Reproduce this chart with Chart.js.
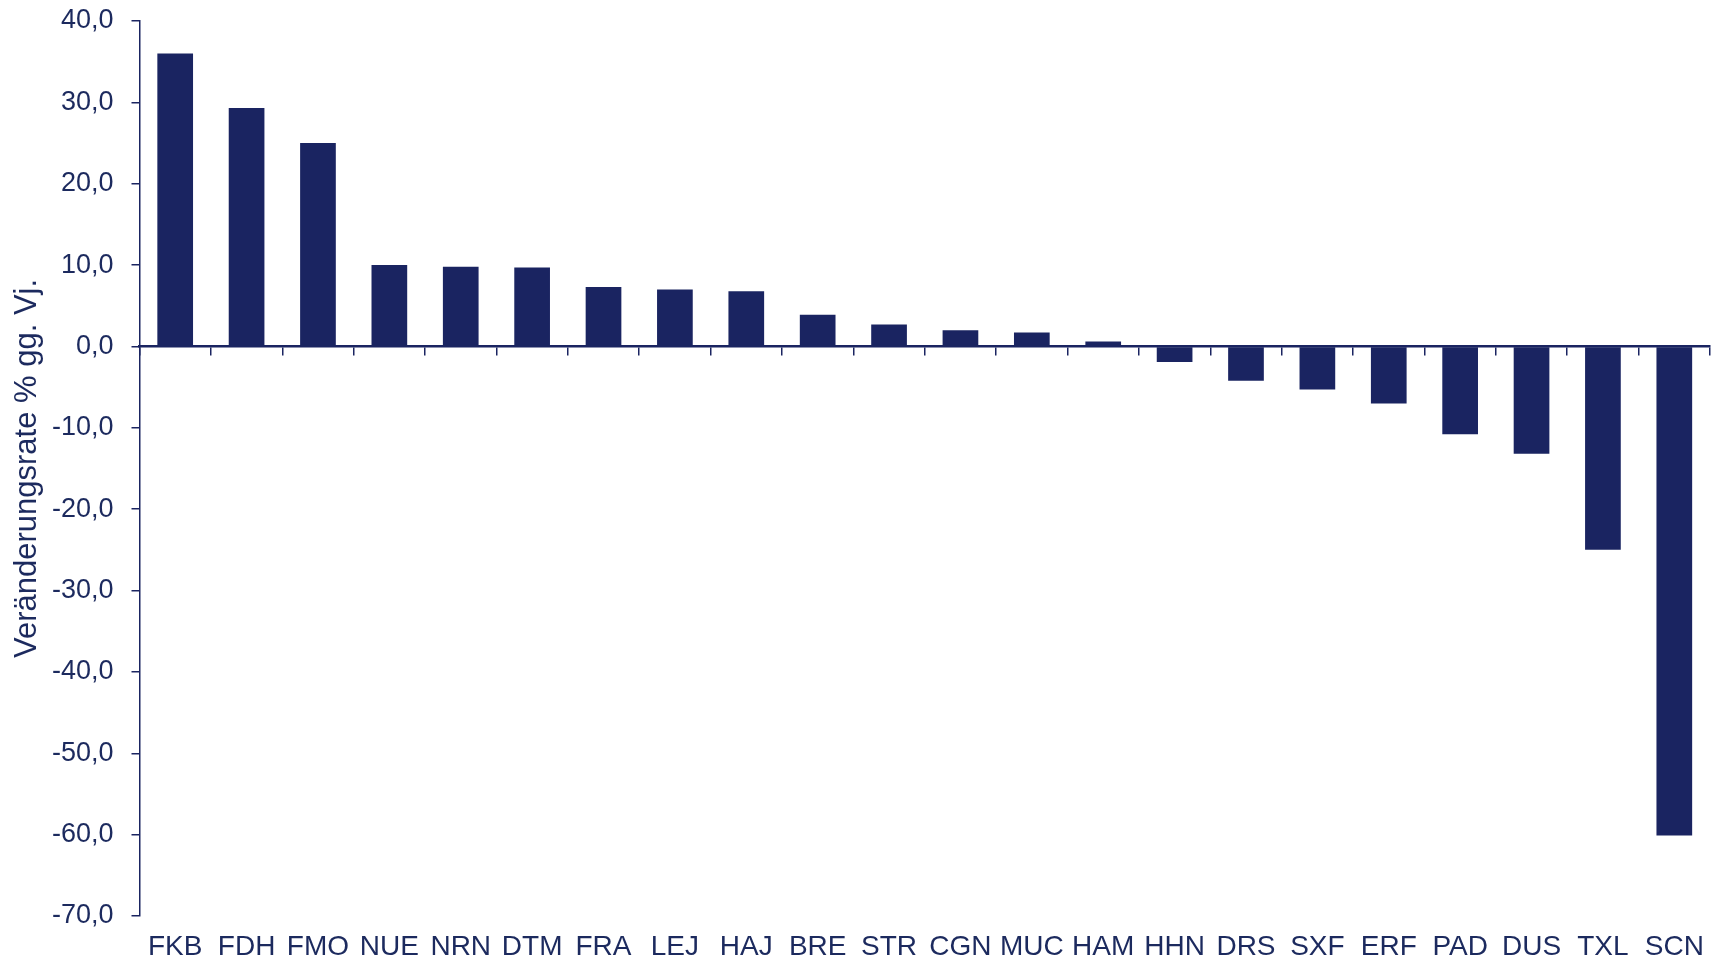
<!DOCTYPE html>
<html lang="de">
<head>
    <meta charset="UTF-8">
    <title>Veränderungsrate</title>
    <script src="https://cdn.jsdelivr.net/npm/chart.js"></script>
    <style>
        html, body { margin: 0; padding: 0; background: #ffffff; }
        #wrap { width: 1719px; height: 961px; }
    </style>
</head>
<body>
    <div id="wrap"><canvas id="chart"></canvas></div>

    <script>
        // airports and change rate vs previous year (%)
        const airports = ["FKB", "FDH", "FMO", "NUE", "NRN", "DTM", "FRA", "LEJ", "HAJ", "BRE", "STR",
                          "CGN", "MUC", "HAM", "HHN", "DRS", "SXF", "ERF", "PAD", "DUS", "TXL", "SCN"];
        const changeRate = [36.0, 29.3, 25.0, 10.0, 9.8, 9.7, 7.3, 7.0, 6.8, 3.9, 2.7,
                            2.0, 1.7, 0.6, -1.9, -4.2, -5.3, -7.0, -10.8, -13.2, -25.0, -60.1];
        const yTicks = [40, 30, 20, 10, 0, -10, -20, -30, -40, -50, -60, -70];
        const yTitle = "Veränderungsrate % gg. Vj.";

        const navy = "#1a2461";
        const textCol = "#1c2a5e";
        const fontFam = "'Liberation Sans', Arial, sans-serif";

        // no automatic label overhang, layout padding does it
        const noOverhang = s => { s.paddingTop = 0; s.paddingBottom = 0; s.paddingLeft = 0; s.paddingRight = 0; };

        new Chart(document.getElementById("chart"), {
            type: "bar",
            data: {
                labels: airports,
                datasets: [{
                    data: changeRate,
                    backgroundColor: navy,
                    borderWidth: 0,
                    categoryPercentage: 1.0,
                    barPercentage: 0.5,
                    xAxisID: "x"
                }]
            },
            options: {
                responsive: true,
                maintainAspectRatio: false,
                animation: false,
                layout: { padding: { left: 0, right: 9, top: 21, bottom: -17 } },
                plugins: { legend: { display: false }, tooltip: { enabled: false } },
                scales: {
                    x: {
                        position: "bottom",
                        afterFit: noOverhang,
                        grid: { display: false, drawTicks: false },
                        border: { display: false },
                        ticks: {
                            color: textCol,
                            padding: 17,
                            maxRotation: 0,
                            autoSkip: false,
                            font: { family: fontFam, size: 28, lineHeight: 1 }
                        }
                    },
                    // axis line at zero with tick marks between categories
                    x2: {
                        type: "category",
                        labels: airports,
                        position: { y: 0 },
                        offset: true,
                        afterFit: noOverhang,
                        grid: {
                            offset: true,
                            drawOnChartArea: false,
                            drawTicks: true,
                            tickLength: 8,
                            color: navy,
                            lineWidth: 1.5
                        },
                        border: { display: true, color: navy, width: 2.5 },
                        ticks: { display: false }
                    },
                    y: {
                        min: -70,
                        max: 40,
                        afterBuildTicks: s => { s.ticks = yTicks.map(v => ({ value: v })); },
                        afterFit: s => { noOverhang(s); s.width = 139.5; },
                        grid: {
                            drawOnChartArea: false,
                            drawTicks: true,
                            tickLength: 8,
                            color: navy,
                            lineWidth: 1.5
                        },
                        border: { display: true, color: navy, width: 1.5 },
                        ticks: {
                            color: textCol,
                            padding: 18,
                            font: { family: fontFam, size: 27 },
                            callback: v => v.toFixed(1).replace(".", ",")
                        },
                        title: {
                            display: true,
                            text: yTitle,
                            color: textCol,
                            font: { family: fontFam, size: 31, lineHeight: 1.2 },
                            padding: { top: 9, bottom: 0 }
                        }
                    }
                }
            }
        });
    </script>
</body>
</html>
